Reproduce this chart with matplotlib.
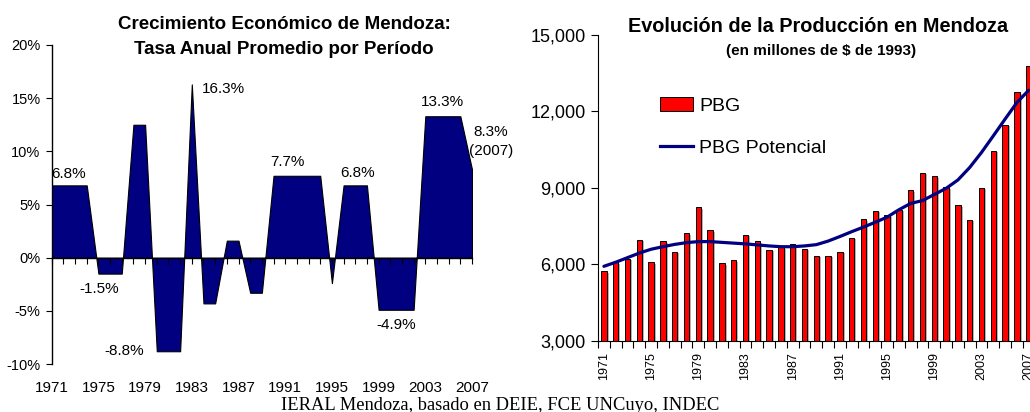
import matplotlib
matplotlib.use("Agg")
import matplotlib.pyplot as plt
import matplotlib.patheffects as pe
from matplotlib.ticker import PercentFormatter, StrMethodFormatter, NullFormatter
from matplotlib.lines import Line2D
from matplotlib.patches import Patch

plt.rcParams['font.family'] = ['Liberation Sans', 'DejaVu Sans']
plt.rcParams['axes.unicode_minus'] = False

# ---------------- data ----------------
years = list(range(1971, 2008))

growth = [6.8, 6.8, 6.8, 6.8, -1.5, -1.5, -1.5, 12.5, 12.5, -8.8,
          -8.8, -8.8, 16.3, -4.3, -4.3, 1.6, 1.6, -3.3, -3.3, 7.7,
          7.7, 7.7, 7.7, 7.7, -2.4, 6.8, 6.8, 6.8, -4.9, -4.9,
          -4.9, -4.9, 13.3, 13.3, 13.3, 13.3, 8.3]

growth_labels = ["6.8%", "-1.5%", "-8.8%", "16.3%", "7.7%", "6.8%", "-4.9%", "13.3%", "8.3%", "(2007)"]
growth_label_x = [1971.0, 1975.1, 1977.2, 1983.85, 1991.2, 1997.2, 2000.5, 2004.45, 2008.6, 2008.6]
growth_label_y = [7.9, -2.9, -8.8, 15.9, 9.0, 8.0, -6.35, 14.66, 11.8, 10.0]
growth_label_ha = ["left", "center", "center", "left", "center", "center", "center", "center", "center", "center"]

pbg = [5740, 6090, 6220, 6960, 6090, 6920, 6500, 7230, 8230, 7350,
       6050, 6150, 7160, 6920, 6570, 6670, 6780, 6610, 6340, 6340,
       6500, 7040, 7760, 8110, 7930, 8140, 8920, 9600, 9450, 9020,
       8330, 7750, 9010, 10460, 11480, 12760, 13790]

pbg_pot = [5920, 6080, 6260, 6440, 6590, 6690, 6780, 6850, 6890, 6890,
           6860, 6830, 6800, 6760, 6720, 6690, 6690, 6720, 6770, 6910,
           7090, 7280, 7460, 7650, 7850, 8140, 8390, 8500, 8740, 8980,
           9310, 9800, 10390, 11040, 11700, 12350, 12830]

left_xticks = [1971, 1975, 1979, 1983, 1987, 1991, 1995, 1999, 2003, 2007]
left_yticks = [-10, -5, 0, 5, 10, 15, 20]
right_yticks = [3000, 6000, 9000, 12000, 15000]

NAVY = "#000080"
W, H = 1030, 412

fig = plt.figure(figsize=(W / 100, H / 100), dpi=100)

# ---------------- left chart ----------------
ax1 = fig.add_axes([51.7 / W, 1 - 364 / H, 420.3 / W, 319 / H])
ax1.fill_between(years, growth, 0, facecolor=NAVY, edgecolor="black", linewidth=0.8)
ax1.set_xlim(1971, 2007)
ax1.set_ylim(-10, 20)
for s in ("top", "right"):
    ax1.spines[s].set_visible(False)
ax1.spines["bottom"].set_position(("data", 0))
ax1.spines["bottom"].set_linewidth(1.0)
ax1.spines["left"].set_linewidth(1.0)
ax1.set_xticks(years)
ax1.xaxis.set_major_formatter(NullFormatter())
ax1.tick_params(axis="x", direction="out", length=4, width=0.8)
ax1.set_yticks(left_yticks)
ax1.yaxis.set_major_formatter(PercentFormatter(xmax=100, decimals=0))
ax1.tick_params(axis="y", direction="out", length=4, width=0.8, labelsize=10.5, pad=4)

sec = ax1.secondary_xaxis(0)
sec.set_xticks(left_xticks)
sec.tick_params(length=0, labelsize=11, pad=12.5)
sec.spines["bottom"].set_visible(False)

for t, x, y, ha in zip(growth_labels, growth_label_x, growth_label_y, growth_label_ha):
    ax1.text(x, y, t, ha=ha, va="center", fontsize=11, clip_on=False)

fig.text(284 / W, 1 - 29 / H, "Crecimiento Económico de Mendoza:", ha="center", va="baseline",
         fontsize=13.5, fontweight="bold")
fig.text(284 / W, 1 - 54 / H, "Tasa Anual Promedio por Período", ha="center", va="baseline",
         fontsize=13.5, fontweight="bold")

# ---------------- right chart ----------------
ax2 = fig.add_axes([598 / W, 1 - 340.7 / H, 436.6 / W, 305.7 / H])
bars = ax2.bar(years, pbg, width=0.45, bottom=0, color="#FF0000", edgecolor="black", linewidth=0.7,
               label="PBG")
for b in bars:
    b.set_path_effects([pe.SimplePatchShadow(offset=(1.5, -1.2), shadow_rgbFace="gray", alpha=0.6),
                        pe.Normal()])
ax2.plot(years, pbg_pot, color=NAVY, linewidth=2.3, solid_capstyle="round", label="PBG Potencial")
ax2.set_xlim(1970.5, 2007.5)
ax2.set_ylim(3000, 15000)
for s in ("top", "right"):
    ax2.spines[s].set_visible(False)
ax2.set_yticks(right_yticks)
ax2.yaxis.set_major_formatter(StrMethodFormatter("{x:,.0f}"))
ax2.tick_params(axis="y", direction="out", length=5, width=0.8, labelsize=13, pad=4)
ax2.set_xticks(left_xticks)
ax2.set_xticks([y - 0.5 for y in years] + [2007.5], minor=True)
ax2.tick_params(axis="x", which="major", length=0, labelsize=9, rotation=90, pad=8)
ax2.tick_params(axis="x", which="minor", direction="out", length=5, width=0.8)

handles = [Patch(facecolor="#FF0000", edgecolor="black", linewidth=0.7),
           Line2D([0], [0], color=NAVY, linewidth=2.3)]
ax2.legend(handles, ["PBG", "PBG Potencial"], loc="upper left",
           bbox_to_anchor=(660 / W, 1 - 97 / H), bbox_transform=fig.transFigure,
           frameon=False, borderpad=0, borderaxespad=0, handlelength=1.7, handletextpad=0.3,
           labelspacing=1.25, fontsize=14)

fig.text(818 / W, 1 - 31.5 / H, "Evolución de la Producción en Mendoza", ha="center", va="baseline",
         fontsize=14.3, fontweight="bold")
fig.text(821 / W, 1 - 55 / H, "(en millones de $ de 1993)", ha="center", va="baseline",
         fontsize=11, fontweight="bold")

# ---------------- footer ----------------
fig.text(500 / W, 1 - 410 / H, "IERAL Mendoza, basado en DEIE, FCE UNCuyo, INDEC", ha="center",
         va="baseline", fontsize=13.3, family=["Liberation Serif", "DejaVu Serif"])

fig.savefig("out.png", dpi=100)
